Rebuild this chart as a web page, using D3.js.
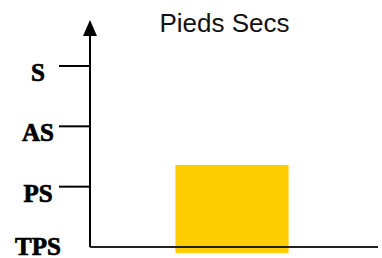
<!DOCTYPE html>
<html>
<head>
<meta charset="utf-8">
<script src="https://cdn.jsdelivr.net/npm/d3@7"></script>
<style>
  body { margin: 0; background: #fff; }
  svg { display: block; }
</style>
</head>
<body>
<div id="chart"></div>
<script>
// levels on the y axis, bottom to top
var levels = ["TPS", "PS", "AS", "S"];
var categories = ["Pieds Secs"];
var barLow = [-0.1];
var barHigh = [1.36];
var title = "Pieds Secs";

var width = 382, height = 258;

var svg = d3.select("#chart").append("svg")
	.attr("width", width)
	.attr("height", height);

var y = d3.scaleLinear()
	.domain([0, levels.length - 1])
	.range([247, 66]);

var x = d3.scaleBand()
	.domain(categories)
	.range([88, 376])
	.padding(0.436);

// bar
svg.selectAll(".bar")
	.data(categories)
	.enter().append("rect")
	.attr("class", "bar")
	.attr("x", function (d) { return x(d); })
	.attr("width", x.bandwidth())
	.attr("y", function (d, i) { return y(barHigh[i]); })
	.attr("height", function (d, i) { return y(barLow[i]) - y(barHigh[i]); })
	.attr("fill", "#ffcc00");

// y axis line + arrow
svg.append("line")
	.attr("x1", 90).attr("x2", 90)
	.attr("y1", 34).attr("y2", y(0))
	.attr("stroke", "#000").attr("stroke-width", 2);

svg.append("path")
	.attr("d", "M90,20 L97,36 L83,36 Z")
	.attr("fill", "#000");

// x axis line
svg.append("line")
	.attr("x1", 90).attr("x2", 378)
	.attr("y1", y(0)).attr("y2", y(0))
	.attr("stroke", "#222").attr("stroke-width", 2);

// ticks (not on the bottom level)
svg.selectAll(".tick")
	.data(levels.slice(1))
	.enter().append("line")
	.attr("class", "tick")
	.attr("x1", 59).attr("x2", 90)
	.attr("y1", function (d, i) { return y(i + 1); })
	.attr("y2", function (d, i) { return y(i + 1); })
	.attr("stroke", "#000").attr("stroke-width", 2);

svg.selectAll(".lvl")
	.data(levels)
	.enter().append("text")
	.attr("class", "lvl")
	.attr("x", 38)
	.attr("y", function (d, i) { return y(i) + (i === 0 ? 8 : 15); })
	.attr("text-anchor", "middle")
	.style("font-family", "'Liberation Serif', 'Times New Roman', serif")
	.style("font-weight", "bold")
	.style("font-size", "25px")
	.attr("fill", "#000")
	.attr("stroke", "#000")
	.attr("stroke-width", 0.7)
	.text(function (d) { return d; });

svg.append("text")
	.attr("x", 224.5)
	.attr("y", 32)
	.attr("text-anchor", "middle")
	.style("font-family", "'Liberation Sans', Arial, sans-serif")
	.style("font-size", "26px")
	.attr("fill", "#111")
	.text(title);
</script>
</body>
</html>
